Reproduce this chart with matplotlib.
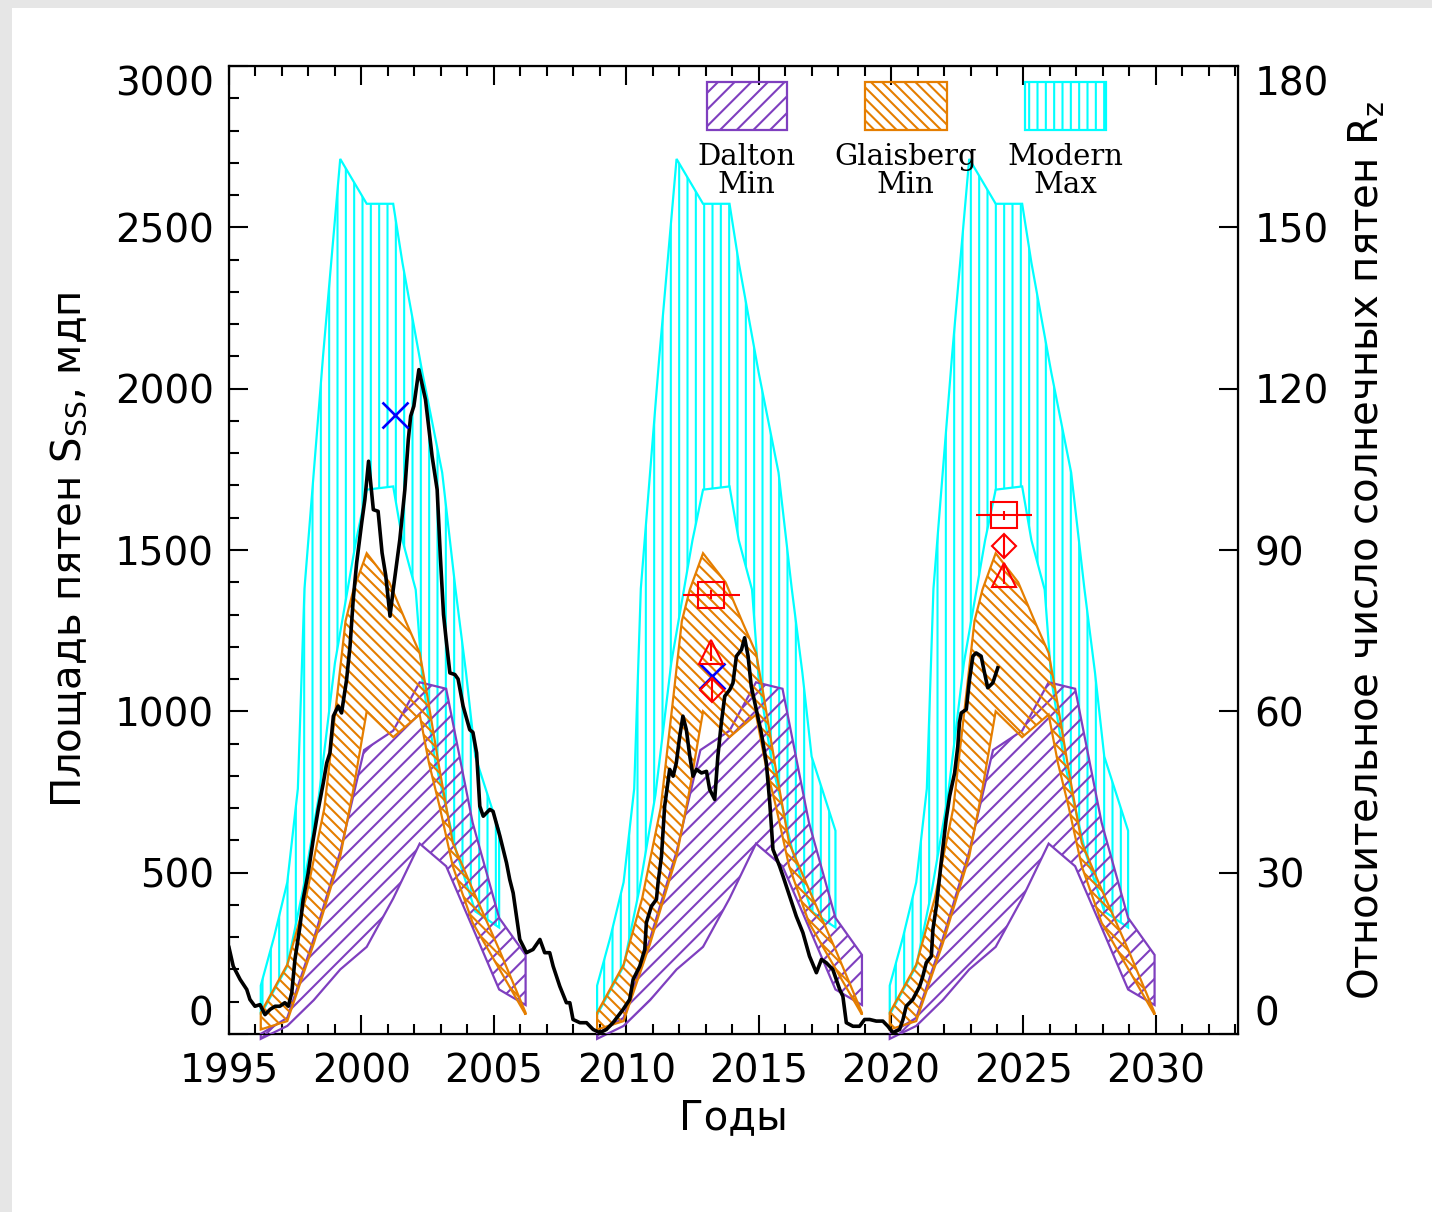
import matplotlib
matplotlib.use('Agg')
import matplotlib.pyplot as plt
from matplotlib.patches import Rectangle
from matplotlib.ticker import MultipleLocator

# ---------------- data ----------------
# start years of the three predicted cycles
cycle_starts = [1996.2, 2008.9, 2019.95]

# Modern Max band (offset in years from cycle start, area)
modern_off_up = [0, 0.5, 1.0, 1.4, 1.65, 2.0, 2.35, 2.7, 3.0, 4.0, 5.0, 5.35, 6.1, 6.85, 7.35, 7.75, 8.1, 9.0]
modern_up = [150, 300, 470, 760, 1380, 1740, 2100, 2430, 2712, 2573, 2573, 2390, 2050, 1740, 1380, 1120, 860, 630]
modern_off_lo = [0, 1, 1.6, 2.2, 2.8, 3.2, 3.6, 4.0, 5.0, 5.35, 5.85, 6.1, 6.6, 7.4, 8.1, 9.0]
modern_lo = [60, 210, 450, 740, 1150, 1340, 1530, 1687, 1697, 1530, 1377, 1100, 840, 560, 380, 330]

# Glaisberg Min band
glais_off_up = [0, 1, 1.7, 2.4, 2.9, 3.2, 3.5, 4, 4.85, 5.5, 6, 6.25, 6.75, 7.25, 8, 9, 10]
glais_up = [66, 215, 420, 700, 1060, 1280, 1377, 1490, 1400, 1274, 1181, 1067, 820, 592, 448, 262, 66]
glais_off_lo = [0, 1, 2, 3, 3.5, 4, 5, 6, 6.35, 6.75, 7.25, 8, 10]
glais_lo = [14, 40, 280, 550, 760, 1000, 920, 990, 840, 706, 520, 345, 60]

# Dalton Min band
dalton_off_up = [0, 1, 2, 3, 3.9, 5, 6, 7, 8, 9, 10]
dalton_up = [0, 50, 295, 565, 880, 940, 1090, 1070, 655, 360, 245]
dalton_off_lo = [0, 1, 2, 3, 4, 5, 6, 7, 8, 9, 10]
dalton_lo = [-15, 25, 105, 200, 270, 420, 590, 520, 330, 138, 90]

# observed sunspot area
obs_year = [1995.00, 1995.16, 1995.42, 1995.67, 1995.79, 1995.98, 1996.17, 1996.36, 1996.55, 1996.74,
            1996.92, 1997.11, 1997.24, 1997.37, 1997.49, 1997.68, 1997.80, 1997.99, 1998.18, 1998.37,
            1998.56, 1998.69, 1998.81, 1998.94, 1999.12, 1999.25, 1999.44, 1999.57, 1999.69, 1999.82,
            2000.01, 2000.13, 2000.27, 2000.45, 2000.63, 2000.70, 2000.78, 2000.92, 2001.08, 2001.20,
            2001.45, 2001.64, 2001.77, 2001.86, 2001.98, 2002.17, 2002.42, 2002.67, 2002.86, 2002.98,
            2003.10, 2003.20, 2003.34, 2003.53, 2003.65, 2003.84, 2004.09, 2004.21, 2004.35, 2004.47,
            2004.60, 2004.85, 2004.97, 2005.23, 2005.48, 2005.60, 2005.73, 2005.98, 2006.23, 2006.48,
            2006.74, 2006.92, 2007.11, 2007.24, 2007.49, 2007.74, 2007.87, 2007.99, 2008.25, 2008.50,
            2008.75, 2009.00, 2009.25, 2009.50, 2009.88, 2010.13, 2010.26, 2010.51, 2010.70, 2010.76,
            2010.95, 2011.14, 2011.20, 2011.33, 2011.45, 2011.64, 2011.77, 2011.89, 2012.02, 2012.14,
            2012.27, 2012.40, 2012.52, 2012.65, 2012.84, 2013.03, 2013.15, 2013.34, 2013.46, 2013.59,
            2013.72, 2013.91, 2014.03, 2014.16, 2014.35, 2014.47, 2014.60, 2014.72, 2014.91, 2015.10,
            2015.29, 2015.42, 2015.54, 2015.79, 2015.92, 2016.17, 2016.42, 2016.67, 2016.92, 2017.18,
            2017.37, 2017.55, 2017.80, 2018.06, 2018.18, 2018.31, 2018.56, 2018.81, 2019.00, 2019.19,
            2019.44, 2019.69, 2019.88, 2020.07, 2020.32, 2020.45, 2020.57, 2020.82, 2021.08, 2021.20,
            2021.33, 2021.52, 2021.58, 2021.71, 2021.89, 2022.08, 2022.21, 2022.40, 2022.52, 2022.58,
            2022.65, 2022.84, 2022.96, 2023.09, 2023.21, 2023.40, 2023.53, 2023.65, 2023.84, 2024.03]
obs_area = [268, 210, 169, 138, 107, 86, 91, 60, 76, 86,
            86, 97, 86, 128, 231, 334, 417, 499, 603, 696,
            778, 840, 871, 985, 1016, 995, 1098, 1202, 1346, 1460,
            1584, 1656, 1775, 1625, 1620, 1560, 1491, 1420, 1295, 1377,
            1532, 1687, 1842, 1915, 1946, 2059, 1966, 1790, 1687, 1481,
            1300, 1222, 1119, 1114, 1100, 1016, 943, 935, 871, 706,
            675, 696, 690, 613, 530, 479, 437, 293, 252, 262,
            293, 252, 252, 210, 148, 97, 97, 45, 35, 35,
            14, 4, 14, 35, 76, 107, 169, 210, 262, 345,
            396, 417, 468, 551, 706, 820, 799, 840, 923, 985,
            943, 861, 799, 820, 809, 814, 758, 727, 861, 964,
            1047, 1067, 1088, 1171, 1191, 1228, 1171, 1078, 1006, 933,
            840, 716, 572, 520, 489, 427, 365, 314, 241, 190,
            231, 221, 200, 138, 117, 35, 24, 24, 45, 45,
            40, 40, 24, 4, 14, 45, 86, 107, 148, 179,
            221, 241, 324, 396, 530, 665, 737, 809, 892, 964,
            995, 1006, 1098, 1171, 1181, 1171, 1119, 1073, 1088, 1135]

# forecast points
x_year = [2001.26, 2013.25]
x_area = [1919, 1109]
sq_year = [2013.21, 2024.26]
sq_area = [1362, 1607]
sq_xerr = [1.07, 1.06]
sq_yerr = [15, 15]
tri_year = [2013.2, 2024.26]
tri_area = [1185, 1424]
tri_yerr = [28, 30]
dia_year = [2013.23, 2024.26]
dia_area = [1067, 1512]
dia_yerr = [34, 36]

legend_names = ['Dalton\nMin', 'Glaisberg\nMin', 'Modern\nMax']

# ---------------- style ----------------
PURPLE = '#7f3fbf'
ORANGE = '#e57e00'
CYAN = '#00ffff'
plt.rcParams['hatch.linewidth'] = 1.5
plt.rcParams['font.family'] = ['DejaVu Sans']

fig = plt.figure(figsize=(14.32, 12.12), dpi=100)
fig.patch.set_facecolor('#e6e6e6')
fig.add_artist(Rectangle((12 / 1432, 0), 1 - 12 / 1432, 1 - 8 / 1212, transform=fig.transFigure,
                         facecolor='white', edgecolor='none', zorder=-10))

ax = fig.add_axes([229 / 1432, 1 - 1034 / 1212, (1238 - 229) / 1432, (1034 - 66) / 1212])
ax.set_facecolor('none')


def band(start, off_up, up, off_lo, lo, color, hatch, z):
    xs = [start + o for o in off_up] + [start + o for o in off_lo[::-1]]
    ys = list(up) + list(lo[::-1])
    ax.fill(xs, ys, facecolor='none', edgecolor=color, hatch=hatch, linewidth=1.6,
            zorder=z, clip_on=False)


for s in cycle_starts:
    band(s, modern_off_up, modern_up, modern_off_lo, modern_lo, CYAN, '||', 2)
    band(s, dalton_off_up, dalton_up, dalton_off_lo, dalton_lo, PURPLE, '//', 3)
    band(s, glais_off_up, glais_up, glais_off_lo, glais_lo, ORANGE, '\\\\\\', 4)

ax.plot(obs_year, obs_area, color='black', linewidth=2.6, zorder=6)

# forecast symbols
ax.plot(x_year, x_area, linestyle='none', marker='x', markersize=19, mew=1.9, color='#0000ff', zorder=8)
ax.errorbar(sq_year, sq_area, xerr=sq_xerr, yerr=sq_yerr, fmt='s', markersize=19, mfc='none',
            mec='red', mew=1.5, ecolor='red', elinewidth=1.5, capsize=0, zorder=9)
ax.errorbar(tri_year, tri_area, yerr=tri_yerr, fmt='^', markersize=17, mfc='none',
            mec='red', mew=1.5, ecolor='red', elinewidth=1.5, capsize=0, zorder=9)
ax.errorbar(dia_year, dia_area, yerr=dia_yerr, fmt='D', markersize=12.5, mfc='none',
            mec='red', mew=1.5, ecolor='red', elinewidth=1.5, capsize=0, zorder=9)

# axes
ax.set_xlim(1995, 2033.1)
ax.set_ylim(0, 3000)
ax.set_xticks(range(1995, 2031, 5))
ax.xaxis.set_minor_locator(MultipleLocator(1))
ax.set_yticks(range(0, 3001, 500))
ax.yaxis.set_minor_locator(MultipleLocator(100))
ax.tick_params(which='both', direction='in', top=True, right=False, width=1.5, labelsize=28)
ax.tick_params(which='major', length=14)
ax.tick_params(which='minor', length=7)
ax.tick_params(axis='x', pad=13)
ax.tick_params(axis='y', pad=11)
for sp in ax.spines.values():
    sp.set_linewidth(1.6)

ax.set_xlabel('Годы', fontsize=29, labelpad=6)
ax.set_ylabel('Площадь пятен $\\mathregular{S_{SS}}$, мдп', fontsize=29, labelpad=18)

ax2 = ax.twinx()
ax2.set_ylim(0, 180)
ax2.set_yticks(range(0, 181, 30))
ax2.tick_params(direction='in', length=14, width=1.5, labelsize=28, pad=12)
ax2.set_ylabel('Относительное число солнечных пятен $\\mathregular{R_z}$', fontsize=29,
               labelpad=12)

# end labels sit inside the axis range, as in the original
for a in (ax, ax2):
    labels = a.get_yticklabels()
    labels[0].set_verticalalignment('bottom')
    labels[-1].set_verticalalignment('top')

# legend boxes
box_x = [0.4734, 0.6303, 0.7889]
box_w = [0.0793, 0.0810, 0.0803]
box_colors = [PURPLE, ORANGE, CYAN]
box_hatch = ['//', '\\\\\\', '||']
for bx, bw, c, h, name in zip(box_x, box_w, box_colors, box_hatch, legend_names):
    ax.add_patch(Rectangle((bx, 0.9339), bw, 0.0499, transform=ax.transAxes, facecolor='none',
                           edgecolor=c, hatch=h, linewidth=1.6, zorder=10))
    ax.text(bx + bw / 2, 0.892, name, transform=ax.transAxes, ha='center', va='center',
            fontsize=21, family='DejaVu Serif', linespacing=1.0, zorder=10)

fig.savefig('out.png', dpi=100, facecolor=fig.get_facecolor())
